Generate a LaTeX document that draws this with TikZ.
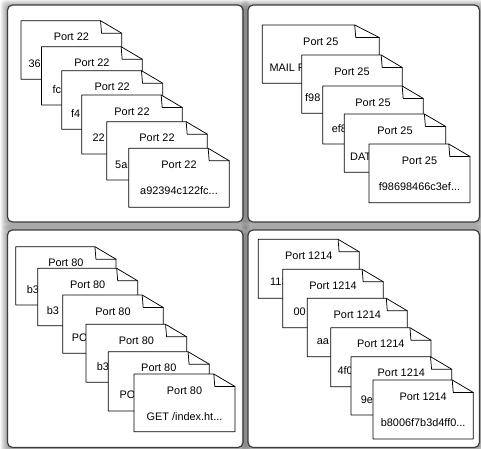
\documentclass[tikz,border=0pt]{standalone}
\usepackage{fontspec}
\setmainfont{Liberation Sans}
\definecolor{panelgray}{HTML}{3C3C3C}
\tikzset{
  panel/.style={draw=panelgray, line width=1.2pt, fill=white, rounded corners=5pt},
  docline/.style={draw=black, line width=0.75pt, fill=white, line join=round},
  flapline/.style={draw=black, line width=0.75pt, line join=round},
  txt/.style={inner sep=0pt, font=\fontsize{10.9}{12}\selectfont},
  ttl/.style={txt, anchor=base},
  bdy/.style={txt, anchor=base west},
  bdc/.style={txt, anchor=base},
}
% panel with soft shadow: name L T R B
\newcommand\panelbox[5]{%
  \foreach \s in {1,...,7}{%
    \fill[black, opacity=0.055, rounded corners=6pt]
      ({#2-\s},{#3-\s+1.5}) rectangle ({#4+\s},{#5+\s+1.5});
  }%
  \path[panel] (#2,#3) rectangle (#4,#5);
  \coordinate (#1) at ({(#2+#4)/2},{(#3+#5)/2});
}
% document sheet: name L T R B title
\newcommand\docsheet[6]{%
  \pgfmathsetmacro\fw{0.21*(#4-#2)}%
  \pgfmathsetmacro\fx{#4-\fw}%
  \pgfmathsetmacro\fxx{#4-\fw+1}%
  \pgfmathsetmacro\fy{#3+12.5}%
  \pgfmathsetmacro\cx{(#2+#4)/2}%
  \pgfmathsetmacro\ty{#3+20.2}%
  \path[docline] (#2,#3) -- (\fx,#3) -- (#4,\fy) -- (#4,#5) -- (#2,#5) -- cycle;
  \draw[flapline] (\fx,#3) -- (\fxx,\fy) -- (#4,\fy);
  \node[ttl] (#1) at (\cx,\ty) {#6};
}
% body prefix: name x T text
\newcommand\docbody[4]{%
  \pgfmathsetmacro\by{#3+46.4}%
  \node[bdy] (#1) at (#2,\by) {#4};
}
% centred body: name L T R text
\newcommand\docbodyc[5]{%
  \pgfmathsetmacro\by{#3+46.4}%
  \pgfmathsetmacro\bx{(#2+#4)/2}%
  \node[bdc] (#1) at (\bx,\by) {#5};
}
\begin{document}
\begin{tikzpicture}[x=1pt,y=-1pt]
\useasboundingbox (0,0) rectangle (481,448);
\fill[white] (0,0) rectangle (481,448);

\panelbox{pTL}{7.5}{5}{243}{222}
\panelbox{pTR}{248}{5}{479.5}{222}
\panelbox{pBL}{7.5}{230}{243}{447.5}
\panelbox{pBR}{248}{230}{479.5}{447.5}

% ---- Port 22 ----
\docsheet{a1}{21}{20.7}{121.7}{79.3}{Port 22}
\docbody{a1b}{28.3}{20.7}{36}
\docsheet{a2}{41.5}{46.7}{142.3}{105}{Port 22}
\docbody{a2b}{52.3}{46.7}{fc}
\docsheet{a3}{61.7}{70.7}{162.7}{129.3}{Port 22}
\docbody{a3b}{71}{70.7}{f4}
\docsheet{a4}{81.7}{95}{182.3}{154}{Port 22}
\docbody{a4b}{92.3}{95}{22}
\docsheet{a5}{106.7}{121.7}{207.3}{180}{Port 22}
\docbody{a5b}{115}{121.7}{5a}
\docsheet{a6}{128.7}{148.3}{229.3}{207.3}{Port 22}
\docbodyc{a6b}{128.7}{148.3}{229.3}{a92394c122fc...}

% ---- Port 25 ----
\docsheet{b1}{262.3}{25}{379.3}{83.3}{Port 25}
\docbody{b1b}{269.3}{25}{MAIL F}
\docsheet{b2}{301.7}{55}{402.3}{113.3}{Port 25}
\docbody{b2b}{305}{55}{f98}
\docsheet{b3}{322.7}{86}{423.3}{144}{Port 25}
\docbody{b3b}{331.7}{86}{ef8}
\docsheet{b4}{344.3}{114}{445.7}{172.3}{Port 25}
\docbody{b4b}{350}{114}{DAT}
\docsheet{b5}{369}{144}{470}{202.7}{Port 25}
\docbodyc{b5b}{369}{144}{470}{f98698466c3ef...}

% ---- Port 80 ----
\docsheet{c1}{15.7}{246.7}{116}{305}{Port 80}
\docbody{c1b}{26.7}{246.7}{b3}
\docsheet{c2}{37.7}{268.3}{137.7}{325.7}{Port 80}
\docbody{c2b}{46.7}{268.3}{b3}
\docsheet{c3}{62.7}{295}{163.3}{353.3}{Port 80}
\docbody{c3b}{71.7}{295}{PO}
\docsheet{c4}{86}{324.3}{186.7}{382.3}{Port 80}
\docbody{c4b}{96.7}{324.3}{b3}
\docsheet{c5}{108.3}{351.7}{209.3}{411}{Port 80}
\docbody{c5b}{119.3}{351.7}{PO}
\docsheet{c6}{134}{374}{235}{431.7}{Port 80}
\docbodyc{c6b}{134}{374}{235}{GET /index.ht...}

% ---- Port 1214 ----
\docsheet{d1}{258.3}{239.3}{359.3}{298.3}{Port 1214}
\docbody{d1b}{270}{239.3}{113}
\docsheet{d2}{282.7}{269.3}{383.3}{327.7}{Port 1214}
\docbody{d2b}{293.3}{269.3}{00}
\docsheet{d3}{307.3}{298.3}{407.3}{356.7}{Port 1214}
\docbody{d3b}{316.7}{298.3}{aa}
\docsheet{d4}{330.7}{327.7}{431}{386.7}{Port 1214}
\docbody{d4b}{337.3}{327.7}{4f0}
\docsheet{d5}{351}{356.7}{451.7}{415}{Port 1214}
\docbody{d5b}{360.7}{356.7}{9e}
\docsheet{d6}{373}{380}{473.3}{439}{Port 1214}
\docbodyc{d6b}{373}{380}{473.3}{b8006f7b3d4ff0...}
\end{tikzpicture}
\end{document}
